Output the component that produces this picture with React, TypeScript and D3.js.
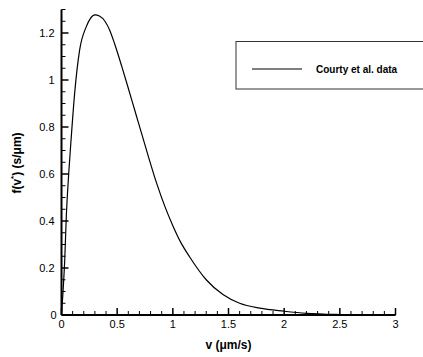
import { useMemo } from "react";
import * as d3 from "d3";

/* Data */
const velocity = [
  0, 0.013, 0.029, 0.043, 0.065, 0.088, 0.118, 0.163, 0.223, 0.26, 0.3, 0.34, 0.39, 0.435, 0.48,
  0.54, 0.6, 0.66, 0.72, 0.78, 0.855, 0.93, 1.0, 1.07, 1.15, 1.3, 1.45, 1.6, 1.78, 2.0, 2.2, 2.5,
  2.8, 3.0,
];
const density = [
  0, 0.094, 0.234, 0.418, 0.603, 0.759, 0.943, 1.128, 1.227, 1.262, 1.277, 1.272, 1.25, 1.21, 1.15,
  1.06, 0.965, 0.868, 0.772, 0.675, 0.56, 0.46, 0.38, 0.31, 0.248, 0.15, 0.087, 0.05, 0.029, 0.016,
  0.007, 0.002, 0.0005, 0,
];
const xMajorTicks = [0, 0.5, 1, 1.5, 2, 2.5, 3];
const yMajorTicks = [0, 0.2, 0.4, 0.6, 0.8, 1, 1.2];
const seriesLabel = "Courty et al. data";

const W = 423;
const H = 357;
const margin = { left: 61.5, right: 27.5, top: 9.5, bottom: 42 };
const font = "'Liberation Sans', Arial, Helvetica, sans-serif";

export default function App() {
  const x = d3.scaleLinear().domain([0, 3]).range([margin.left, W - margin.right]);
  const y = d3.scaleLinear().domain([0, 1.3]).range([H - margin.bottom, margin.top]);

  const xMinor = d3.range(0, 31).map((i) => i / 10);
  const yMinor = d3.range(0, 27).map((i) => i / 20);

  const path = useMemo(() => {
    const pts = velocity.map((v, i) => [v, density[i]] as [number, number]);
    return d3
      .line<[number, number]>()
      .x((d) => x(d[0]))
      .y((d) => y(d[1]))
      .curve(d3.curveMonotoneX)(pts);
  }, []);

  const isMajor = (v: number, list: number[]) => list.some((t) => Math.abs(t - v) < 1e-6);

  return (
    <svg
      width={W}
      height={H}
      style={{ position: "absolute", left: 0, top: 0, background: "#fff", display: "block" }}
      fontFamily={font}
    >
      {/* curve */}
      <path d={path ?? ""} fill="none" stroke="#000" strokeWidth={1.2} />

      {/* x axis */}
      <line x1={x(0)} x2={x(3)} y1={y(0)} y2={y(0)} stroke="#000" strokeWidth={2} />
      {xMinor.map((t) => {
        const major = isMajor(t, xMajorTicks);
        return (
          <line
            key={`xt${t}`}
            x1={x(t)}
            x2={x(t)}
            y1={y(0)}
            y2={y(0) - (major ? 7 : 4)}
            stroke="#000"
            strokeWidth={major ? 1.5 : 1}
          />
        );
      })}
      {xMajorTicks.map((t) => (
        <text key={`xl${t}`} x={x(t)} y={y(0) + 13} textAnchor="middle" fontSize={11} fill="#000">
          {t}
        </text>
      ))}

      {/* y axis */}
      <line x1={x(0)} x2={x(0)} y1={y(0)} y2={y(1.3)} stroke="#000" strokeWidth={2} />
      {yMinor.map((t) => {
        const major = isMajor(t, yMajorTicks);
        return (
          <line
            key={`yt${t}`}
            x1={x(0)}
            x2={x(0) + (major ? 7 : 4)}
            y1={y(t)}
            y2={y(t)}
            stroke="#000"
            strokeWidth={major ? 1.5 : 1}
          />
        );
      })}
      {yMajorTicks.map((t) => (
        <text
          key={`yl${t}`}
          x={t === 0 ? x(0) - 5 : x(0) - 7}
          y={y(t) + 4}
          textAnchor="end"
          fontSize={11}
          fill="#000"
        >
          {t}
        </text>
      ))}

      {/* axis titles */}
      <text x={(x(0) + x(3)) / 2} y={349} textAnchor="middle" fontSize={12} fontWeight="bold">
        v (μm/s)
      </text>
      <text
        transform={`translate(21,163) rotate(-90)`}
        textAnchor="middle"
        fontSize={12}
        fontWeight="bold"
      >
        f(v
        <tspan fontSize={8} dy={-5}>
          *
        </tspan>
        <tspan dy={5}>) (s/μm)</tspan>
      </text>

      {/* legend */}
      <rect x={236} y={41.5} width={200} height={47.5} fill="#fff" stroke="#333" strokeWidth={1} />
      <line x1={252} x2={302} y1={69} y2={69} stroke="#000" strokeWidth={1.2} />
      <text x={316} y={72.5} fontSize={10} fontWeight="bold">
        {seriesLabel}
      </text>
    </svg>
  );
}
